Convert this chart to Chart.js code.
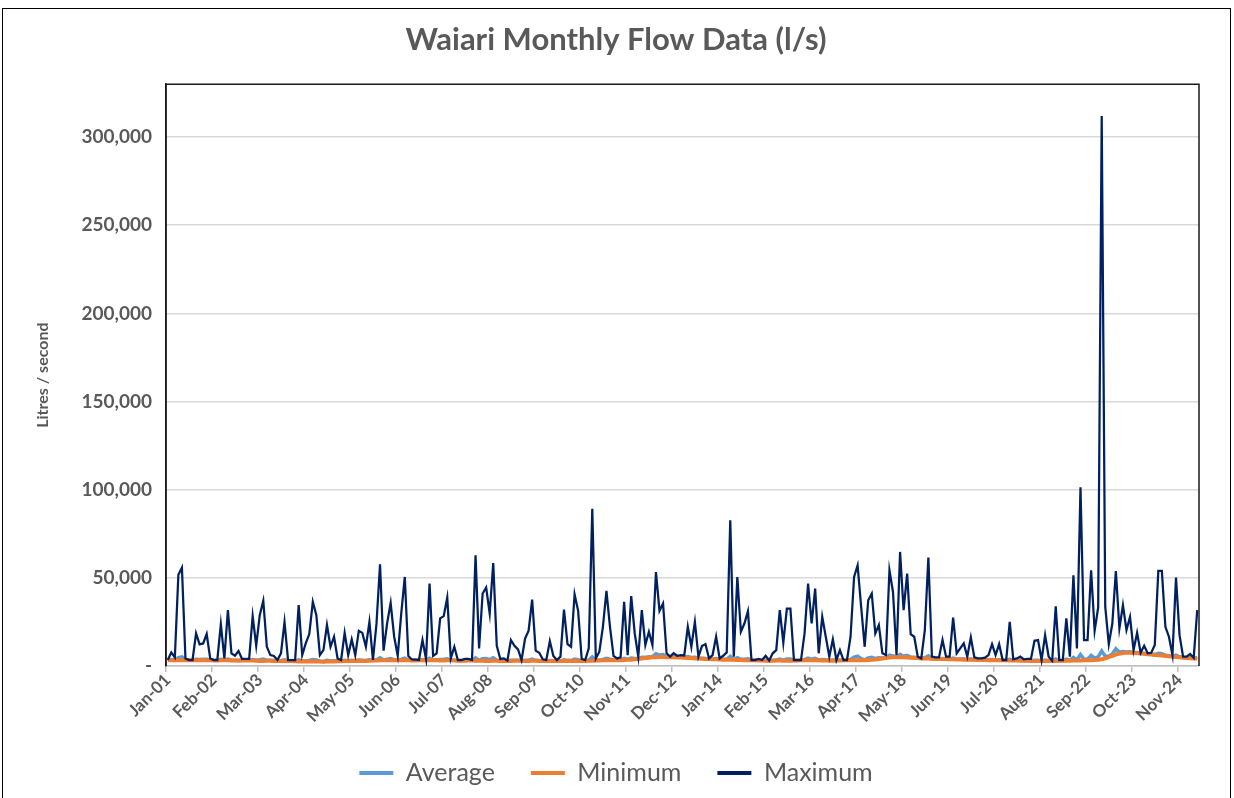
<!DOCTYPE html>
<html>
<head>
<meta charset="utf-8">
<script src="https://cdn.jsdelivr.net/npm/chart.js@4.4.1/dist/chart.umd.min.js"></script>
<style>
  html, body { margin: 0; padding: 0; background: #fff; }
  #wrap { position: relative; width: 1234px; height: 798px; overflow: hidden; }
  #chart { position: absolute; left: 0; top: 0; }
  #frame { position: absolute; left: 2px; top: 8px; width: 1227px; height: 800px; border: 1.5px solid #000; pointer-events: none; }
</style>
</head>
<body>
<div id="wrap">
  <canvas id="chart" width="1234" height="798"></canvas>
  <div id="frame"></div>
</div>
<script>
// months Jan-01 .. Apr-25
const monthNames = ['Jan', 'Feb', 'Mar', 'Apr', 'May', 'Jun', 'Jul', 'Aug', 'Sep', 'Oct', 'Nov', 'Dec'];
const firstYear = 2001;
const monthCount = 292;
const tickLabels = ['Jan-01', 'Feb-02', 'Mar-03', 'Apr-04', 'May-05', 'Jun-06', 'Jul-07', 'Aug-08', 'Sep-09', 'Oct-10', 'Nov-11', 'Dec-12',
  'Jan-14', 'Feb-15', 'Mar-16', 'Apr-17', 'May-18', 'Jun-19', 'Jul-20', 'Aug-21', 'Sep-22', 'Oct-23', 'Nov-24'];
const yTicks = [0, 50000, 100000, 150000, 200000, 250000, 300000];

const categories = [];
for (let i = 0; i < monthCount; i++) {
  const yy = String((firstYear + Math.floor(i / 12)) % 100).padStart(2, '0');
  categories.push(monthNames[i % 12] + '-' + yy);
}

// litres / second, one row per year
const averageFlow = [
  3400, 3700, 3600, 4800, 5200, 3700, 3400, 3400, 3800, 3700, 3800, 3800,
  3400, 3300, 3300, 3800, 3500, 4000, 3400, 3300, 3300, 3300, 3400, 3300,
  3700, 3300, 3600, 4000, 3300, 3200, 3100, 2900, 3000, 3500, 3000, 2900,
  2800, 3500, 2800, 2900, 3100, 3700, 3400, 2700, 2600, 3200, 2800, 3000,
  2900, 2800, 3300, 3000, 3300, 3100, 3400, 3300, 3100, 3500, 3200, 3500,
  4700, 3400, 3800, 4200, 3600, 3400, 3900, 4500, 3400, 3200, 3200, 3300,
  3500, 3400, 4400, 3400, 3400, 3700, 3800, 4100, 3300, 3300, 3100, 3100,
  3100, 3200, 3200, 4600, 3300, 4100, 4300, 3600, 4700, 3300, 3000, 3000,
  2950, 3200, 3200, 3200, 3100, 3200, 3300, 3900, 3200, 3100, 3000, 2900,
  3100, 3000, 3000, 2900, 3500, 3200, 3100, 3900, 3600, 2900, 3000, 3200,
  5200, 3300, 3300, 3700, 4300, 3800, 3400, 3300, 3400, 4300, 3700, 4500,
  4300, 4200, 5000, 4900, 5200, 5300, 7000, 6200, 6500, 5400, 5300, 5200,
  5000, 5000, 4900, 5300, 4800, 5000, 4400, 4400, 4300, 4000, 4000, 4200,
  3800, 3800, 3800, 5500, 3700, 4700, 3800, 3900, 4100, 3300, 3300, 3300,
  3200, 3200, 3050, 3200, 3300, 3900, 3300, 3900, 3900, 3200, 3200, 3250,
  3600, 4500, 3800, 4300, 3300, 3700, 3500, 3100, 3400, 3200, 3300, 3300,
  3350, 3700, 5000, 5600, 4200, 3500, 4600, 4900, 4300, 4700, 4600, 4800,
  6200, 5700, 5200, 6600, 5500, 6000, 5000, 4900, 4600, 4350, 4700, 5800,
  4200, 4100, 4100, 4300, 4000, 3900, 4500, 3800, 3900, 3900, 3700, 4000,
  3600, 3500, 3500, 3500, 3500, 3700, 3400, 3500, 3300, 3300, 3800, 3200,
  3200, 3200, 3100, 3100, 3000, 3300, 3300, 2900, 3400, 3000, 2950, 4000,
  3100, 3100, 3900, 3200, 4900, 3500, 6500, 3800, 3900, 6000, 4400, 5200,
  8500, 5600, 5600, 6800, 9800, 7800, 8200, 7900, 8100, 7600, 7600, 7300,
  7100, 6900, 6700, 6600, 7200, 7000, 6100, 5800, 5400, 6200, 5200, 4800,
  4600, 4700, 4400, 4900
];

const minimumFlow = [
  3400, 3300, 3300, 3200, 3300, 3400, 3300, 3200, 3200, 3300, 3400, 3300,
  3200, 3100, 3100, 3200, 3300, 3200, 3100, 3100, 3000, 3100, 3200, 3100,
  3100, 3000, 2900, 2900, 3000, 3000, 2900, 2800, 2800, 2900, 2900, 2800,
  2700, 2600, 2600, 2500, 2500, 2600, 2600, 2500, 2400, 2500, 2600, 2600,
  2700, 2700, 2800, 2800, 2900, 2900, 3000, 2900, 2900, 3000, 3100, 3100,
  3200, 3200, 3300, 3200, 3200, 3300, 3300, 3200, 3200, 3100, 3100, 3200,
  3200, 3300, 3300, 3200, 3200, 3100, 3100, 3200, 3200, 3100, 3000, 3000,
  3000, 3100, 3100, 3000, 3000, 3000, 2900, 2900, 3000, 3000, 2900, 2900,
  2900, 2900, 3000, 3000, 3000, 2900, 2900, 3000, 3000, 2900, 2900, 2800,
  2800, 2900, 2900, 2800, 2800, 2900, 2900, 3000, 2900, 2800, 2900, 3000,
  3000, 3100, 3100, 3200, 3200, 3300, 3200, 3200, 3300, 3400, 3500, 3600,
  3800, 4000, 4300, 4500, 4700, 4900, 5000, 5100, 5100, 5000, 5000, 4900,
  4800, 4800, 4700, 4600, 4500, 4300, 4200, 4100, 4000, 3900, 3800, 3800,
  3700, 3600, 3600, 3500, 3500, 3400, 3400, 3300, 3300, 3200, 3200, 3100,
  3100, 3000, 3000, 3000, 3100, 3100, 3000, 3000, 3000, 3100, 3100, 3200,
  3200, 3300, 3300, 3200, 3200, 3100, 3100, 3000, 3000, 3100, 3100, 3200,
  3300, 3300, 3200, 3200, 3300, 3300, 3400, 3500, 3700, 4000, 4300, 4600,
  4800, 4900, 5000, 5000, 4900, 4800, 4700, 4600, 4500, 4300, 4300, 4200,
  4100, 4000, 4000, 3900, 3900, 3800, 3800, 3700, 3700, 3600, 3600, 3500,
  3500, 3400, 3400, 3400, 3300, 3300, 3300, 3200, 3200, 3200, 3100, 3100,
  3100, 3000, 3000, 3000, 2900, 2900, 2900, 2800, 2800, 2800, 2900, 2900,
  3000, 3000, 3000, 3000, 3100, 3100, 3100, 3200, 3200, 3300, 3400, 3500,
  3800, 4300, 5000, 5800, 6500, 7000, 7300, 7500, 7500, 7400, 7300, 7100,
  6900, 6700, 6500, 6300, 6100, 5900, 5700, 5500, 5300, 5100, 4900, 4700,
  4500, 4400, 4300, 4200
];

const maximumFlow = [
  3400, 7700, 4900, 51800, 55800, 4300, 3400, 3400, 18500, 12300, 12800, 18100,
  4300, 3400, 3400, 23700, 4300, 31700, 7200, 5800, 8500, 4000, 4000, 4000,
  28300, 11500, 28800, 37000, 10900, 6200, 5700, 3400, 7200, 25000, 3400, 3400,
  3400, 34500, 6200, 12800, 18100, 36400, 28800, 6200, 9000, 23200, 10900, 16600,
  4300, 3400, 18800, 6200, 15100, 6200, 20000, 18800, 10900, 25000, 3400, 24000,
  57700, 8700, 24100, 35800, 16600, 5800, 29800, 50500, 5700, 3700, 3600, 3400,
  14700, 4000, 46700, 5700, 7200, 27000, 28300, 38800, 4300, 10900, 3400, 3400,
  4000, 4000, 3400, 62800, 10000, 41100, 44500, 29800, 58400, 11500, 4000, 4300,
  3000, 14700, 11500, 9400, 3400, 15600, 20000, 37700, 8700, 7500, 3800, 3400,
  14100, 5700, 3400, 5300, 32000, 12400, 10900, 40700, 31300, 4000, 3400, 10000,
  89200, 4300, 8100, 22200, 42600, 22200, 5700, 4300, 4900, 36400, 6200, 39600,
  18500, 5300, 31700, 11900, 19400, 11900, 53300, 31300, 35400, 7200, 5300, 7200,
  5800, 6200, 6000, 22200, 10900, 25000, 5300, 11300, 12400, 4300, 6200, 16600,
  4300, 5800, 7700, 82600, 5300, 50500, 19400, 24100, 31100, 3400, 3400, 4000,
  3400, 5800, 3100, 7200, 9000, 31700, 13200, 32600, 32600, 3400, 3400, 3300,
  18500, 46700, 24100, 43900, 7200, 27900, 16600, 5300, 15100, 3400, 9000, 3400,
  3400, 16600, 50500, 57100, 33600, 10900, 37300, 41100, 18500, 23200, 7200, 6200,
  54300, 42000, 6200, 64700, 31700, 52400, 18100, 16600, 5300, 4300, 20400, 61500,
  5300, 4900, 4900, 14700, 5300, 5300, 27500, 7200, 10000, 12800, 5300, 16200,
  4900, 4300, 4300, 4700, 6200, 12400, 6200, 12400, 3400, 3400, 25000, 3800,
  4300, 5300, 3800, 4000, 4000, 14300, 14700, 3400, 17500, 5300, 3000, 33900,
  3400, 3400, 27000, 5300, 51500, 10000, 101400, 14700, 14700, 54300, 20000, 33200,
  312000, 33500, 12400, 24100, 53900, 21300, 34500, 20400, 27900, 9000, 18800, 7500,
  11500, 7200, 7500, 11900, 53900, 53900, 22200, 16600, 6200, 50100, 17500, 5300,
  5300, 6800, 4600, 31700
];

const textColor = '#595959';
Chart.defaults.font.family = 'Lato';

// black frame on top, left and right of the plot area
const plotFrame = {
  id: 'plotFrame',
  beforeDatasetsDraw(chart) {
    const { ctx, chartArea: a } = chart;
    ctx.save();
    ctx.strokeStyle = '#1a1a1a';
    ctx.lineWidth = 1.5;
    ctx.beginPath();
    ctx.moveTo(a.left, a.bottom);
    ctx.lineTo(a.left, a.top);
    ctx.lineTo(a.right, a.top);
    ctx.lineTo(a.right, a.bottom);
    ctx.stroke();
    ctx.restore();
  }
};

new Chart(document.getElementById('chart'), {
  type: 'line',
  data: {
    labels: categories,
    datasets: [
      { label: 'Average', data: averageFlow, borderColor: '#5B9BD5', backgroundColor: '#5B9BD5', borderWidth: 3.5, order: 3 },
      { label: 'Minimum', data: minimumFlow, borderColor: '#ED7D31', backgroundColor: '#ED7D31', borderWidth: 4, order: 2 },
      { label: 'Maximum', data: maximumFlow, borderColor: '#002060', backgroundColor: '#002060', borderWidth: 2.25, order: 1 }
    ]
  },
  options: {
    responsive: false,
    animation: false,
    devicePixelRatio: 1,
    elements: { point: { radius: 0 }, line: { tension: 0 } },
    layout: { padding: { top: 2, left: 33, right: 35, bottom: 2.5 } },
    plugins: {
      tooltip: { enabled: false },
      title: {
        display: true,
        text: 'Waiari Monthly Flow Data (l/s)',
        color: textColor,
        font: { size: 31, weight: 'bold' },
        padding: { top: 19, bottom: 26 }
      },
      legend: {
        position: 'bottom',
        labels: {
          boxWidth: 34,
          boxHeight: 4,
          padding: 36,
          color: textColor,
          font: { size: 25 },
          generateLabels: chart => chart.data.datasets.map((ds, i) => ({
            text: ds.label,
            fillStyle: ds.borderColor,
            strokeStyle: ds.borderColor,
            lineWidth: 0,
            fontColor: textColor,
            hidden: false,
            datasetIndex: i
          }))
        }
      }
    },
    scales: {
      x: {
        offset: true,
        afterFit: s => { s.height = 58.5; },
        ticks: {
          autoSkip: false,
          minRotation: 45,
          maxRotation: 45,
          padding: -2,
          color: textColor,
          font: { size: 17, weight: 'bold' },
          callback: (v, i) => tickLabels.includes(categories[i]) ? categories[i] : ''
        },
        grid: {
          offset: true,
          drawOnChartArea: false,
          drawTicks: true,
          tickLength: 6,
          lineWidth: 1.5,
          color: ctx => (ctx.index !== undefined && tickLabels.includes(categories[ctx.index])) ? '#bfbfbf' : 'rgba(0,0,0,0)'
        },
        border: { display: true, color: '#bfbfbf', width: 1.5 }
      },
      y: {
        min: 0,
        max: 330000,
        afterFit: s => { s.width = 133; },
        afterBuildTicks: s => { s.ticks = yTicks.map(v => ({ value: v })); },
        ticks: {
          padding: 14,
          color: textColor,
          font: { size: 19, weight: 'bold' },
          callback: v => v === 0 ? '-' : v.toLocaleString('en-US')
        },
        grid: { color: '#d9d9d9', lineWidth: 1.5, drawTicks: false },
        border: { display: true, color: '#1a1a1a', width: 1.5 },
        title: {
          display: true,
          text: 'Litres / second',
          color: textColor,
          font: { size: 16, weight: 'bold' },
          padding: 0
        }
      }
    }
  },
  plugins: [plotFrame]
});
</script>
</body>
</html>
